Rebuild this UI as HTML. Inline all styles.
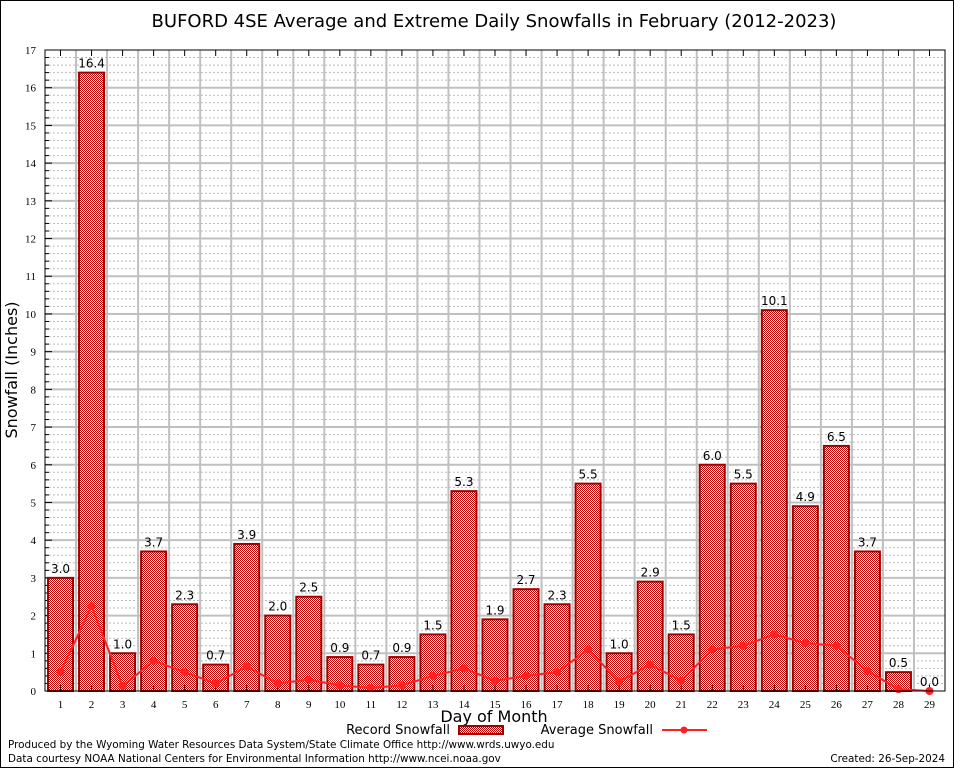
<!DOCTYPE html>
<html><head><meta charset="utf-8"><style>
body{margin:0;background:#fff}
svg{display:block;font-family:"DejaVu Sans","Liberation Sans",sans-serif}
</style></head><body>
<svg id="s" width="954" height="768" xmlns="http://www.w3.org/2000/svg">
<defs>
<pattern id="p" width="2" height="2" patternUnits="userSpaceOnUse"><rect width="2" height="2" fill="#fff"/><rect width="1" height="1" fill="#c00000"/><rect x="1" y="1" width="1" height="1" fill="#c00000"/></pattern>
</defs>
<rect x="0.5" y="0.5" width="953" height="767" fill="#fff" stroke="#000"/>
<text x="494" y="27" font-size="18" text-anchor="middle">BUFORD 4SE Average and Extreme Daily Snowfalls in February (2012-2023)</text>
<g id="g"></g>
<text x="17" y="370" font-size="16" text-anchor="middle" transform="rotate(-90 17 370)">Snowfall (Inches)</text>
<text x="494" y="722" font-size="16" text-anchor="middle">Day of Month</text>
<text x="450" y="734" font-size="13" text-anchor="end">Record Snowfall</text>
<rect x="459" y="726" width="44" height="8" fill="url(#p)" stroke="#a00000" stroke-width="2"/>
<text x="653" y="734" font-size="13" text-anchor="end">Average Snowfall</text>
<line x1="662" y1="730" x2="707" y2="730" stroke="#ff2020" stroke-width="2"/>
<circle cx="684" cy="730" r="3.5" fill="#ff2020"/>
<text x="8" y="748" font-size="10.4">Produced by the Wyoming Water Resources Data System/State Climate Office http://www.wrds.uwyo.edu</text>
<text x="8" y="762" font-size="10.4">Data courtesy NOAA National Centers for Environmental Information http://www.ncei.noaa.gov</text>
<text x="945" y="762" font-size="10.4" text-anchor="end">Created: 26-Sep-2024</text>
</svg>
<script>
var L=45,R=945,T=50,B=691,u=(B-T)/17,w=(R-L)/29,h='';
function Y(v){return B-v*u}
for(var i=0;i<=85;i++){var y=B-i*u/5;if(i%5)h+='<line x1="'+L+'" x2="'+R+'" y1="'+y+'" y2="'+y+'" stroke="#bbb" stroke-dasharray="2,2" stroke-width="1"/>';}
for(var i=1;i<29;i++){var x=L+i*w;h+='<line x1="'+x+'" x2="'+x+'" y1="'+T+'" y2="'+B+'" stroke="#c0c0c0" stroke-width="2"/>';}
for(var i=1;i<17;i++){var y=Y(i);h+='<line x1="'+L+'" x2="'+R+'" y1="'+y+'" y2="'+y+'" stroke="#c0c0c0" stroke-width="2"/>';}
for(var i=0;i<=17;i++){var y=Y(i);h+='<text x="36" y="'+(y+4)+'" font-size="11" font-family="Liberation Serif" text-anchor="end">'+i+'</text>';h+='<line x1="'+L+'" x2="'+(L+7)+'" y1="'+y+'" y2="'+y+'" stroke="#000"/>';
 for(var k=1;k<5&&i<17;k++){var yy=y-k*u/5;h+='<line x1="'+L+'" x2="'+(L+4)+'" y1="'+yy+'" y2="'+yy+'" stroke="#000"/>';}}
var r=[3.0,16.4,1.0,3.7,2.3,0.7,3.9,2.0,2.5,0.9,0.7,0.9,1.5,5.3,1.9,2.7,2.3,5.5,1.0,2.9,1.5,6.0,5.5,10.1,4.9,6.5,3.7,0.5,0.0];
var a=[0.5,2.25,0.13,0.8,0.5,0.2,0.65,0.2,0.3,0.15,0.08,0.15,0.4,0.6,0.27,0.4,0.5,1.1,0.25,0.7,0.27,1.1,1.2,1.5,1.27,1.2,0.53,0.05,0];
var pts=[];
for(var i=0;i<29;i++){var c=L+w*(i+0.5);
 if(r[i]>0)h+='<rect x="'+(c-12.5)+'" y="'+Y(r[i])+'" width="25" height="'+(r[i]*u)+'" fill="url(#p)" stroke="#a00000" stroke-width="2"/>';
 h+='<text x="'+c+'" y="'+(Y(r[i])-5)+'" font-size="12" text-anchor="middle">'+r[i].toFixed(1)+'</text>';
 h+='<text x="'+c+'" y="'+(B+17)+'" font-size="11" font-family="Liberation Serif" text-anchor="middle">'+(i+1)+'</text>';
 h+='<line x1="'+c+'" x2="'+c+'" y1="'+T+'" y2="'+(T+6)+'" stroke="#000"/><line x1="'+c+'" x2="'+c+'" y1="'+B+'" y2="'+(B-6)+'" stroke="#000"/>';
 pts.push(c+','+Y(a[i]));}
h+='<polyline points="'+pts.join(' ')+'" fill="none" stroke="#ff2020" stroke-width="2"/>';
pts.forEach(function(p){var q=p.split(',');h+='<circle cx="'+q[0]+'" cy="'+q[1]+'" r="4" fill="#ff2020"/>';});
h+='<rect x="'+L+'" y="'+T+'" width="'+(R-L)+'" height="'+(B-T)+'" fill="none" stroke="#000"/>';
document.getElementById('g').innerHTML=h;
</script>
</body></html>
